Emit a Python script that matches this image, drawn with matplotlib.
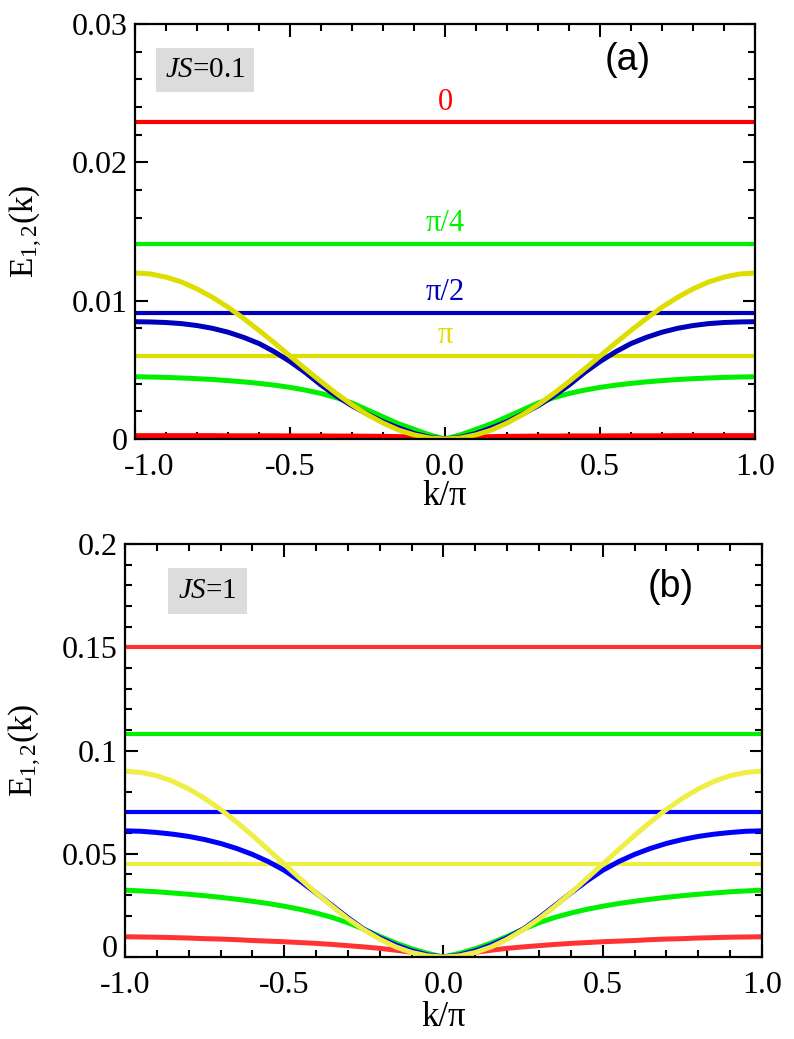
import numpy as np
import matplotlib
matplotlib.use("Agg")
import matplotlib.pyplot as plt
from matplotlib.transforms import ScaledTranslation

plt.rcParams['font.family'] = ['Liberation Serif', 'DejaVu Serif']
plt.rcParams['mathtext.fontset'] = 'custom'
plt.rcParams['mathtext.rm'] = 'Liberation Serif'
plt.rcParams['mathtext.it'] = 'Liberation Serif:italic'
plt.rcParams['mathtext.default'] = 'regular'

# k/pi grid for k >= 0 (curves are symmetric in k)
k_half = np.array([0.0, 0.05, 0.1, 0.15, 0.2, 0.25, 0.3, 0.35, 0.4, 0.45, 0.5,
                   0.55, 0.6, 0.65, 0.7, 0.75, 0.8, 0.85, 0.9, 0.95, 1.0])

phase_labels = ['0', 'π/4', 'π/2', 'π']

# panel (a), JS = 0.1
flat_a = [0.0229, 0.0141, 0.00912, 0.0060]
red_a = [0.0, 0.00008, 0.00014, 0.00017, 0.00019, 0.0002, 0.00021, 0.00021, 0.00022, 0.00022, 0.00022,
         0.00023, 0.00023, 0.00023, 0.00023, 0.00024, 0.00024, 0.00024, 0.00024, 0.00024, 0.00024]
green_a = [0.0, 0.0003, 0.0007, 0.0011, 0.0016, 0.0021, 0.0026, 0.00298, 0.00329, 0.00353, 0.00373,
           0.00389, 0.00402, 0.00413, 0.00422, 0.0043, 0.00436, 0.00441, 0.00445, 0.00448, 0.0045]
blue_a = [0.0, 0.00012, 0.0004, 0.0008, 0.00125, 0.0018, 0.0024, 0.0031, 0.0039, 0.0048, 0.0056,
          0.0063, 0.0069, 0.00735, 0.00772, 0.008, 0.0082, 0.00834, 0.00842, 0.00846, 0.00848]
yellow_a = [0.0, 0.00007, 0.0003, 0.00065, 0.00115, 0.00176, 0.00247, 0.00328, 0.00415, 0.00506, 0.006,
            0.00694, 0.00785, 0.00872, 0.00953, 0.01024, 0.01085, 0.01135, 0.0117, 0.01193, 0.012]

# panel (b), JS = 1
flat_b = [0.150, 0.1078, 0.0700, 0.0450]
red_b = [0.0, 0.0011, 0.0023, 0.0033, 0.0042, 0.0049, 0.0055, 0.0061, 0.0066, 0.0070, 0.0074,
         0.0077, 0.0080, 0.0084, 0.0087, 0.0089, 0.0092, 0.0094, 0.0096, 0.0097, 0.0098]
green_b = [0.0, 0.0018, 0.0040, 0.0068, 0.0100, 0.0135, 0.0166, 0.0192, 0.0213, 0.0231, 0.0246,
           0.0259, 0.0270, 0.0280, 0.0289, 0.0297, 0.0304, 0.0310, 0.0316, 0.0320, 0.0324]
blue_b = [0.0, 0.001, 0.003, 0.0058, 0.0093, 0.0135, 0.0190, 0.0250, 0.0310, 0.0368, 0.0420,
          0.0462, 0.0497, 0.0526, 0.0550, 0.0569, 0.0584, 0.0595, 0.0603, 0.0609, 0.0611]
yellow_b = [0.0, 0.00055, 0.0022, 0.0049, 0.0086, 0.0132, 0.0185, 0.0246, 0.0311, 0.0380, 0.045,
            0.0520, 0.0589, 0.0654, 0.0715, 0.0768, 0.0814, 0.0851, 0.0878, 0.0894, 0.090]

colors_a = ['#ff0000', '#00f000', '#0000bb', '#dddd00']
colors_b = ['#ff3333', '#00f000', '#0000ff', '#eeee44']


def mirror(v):
    v = np.asarray(v)
    return np.concatenate([v[::-1], v[1:]])


k_full = np.concatenate([-k_half[::-1], k_half[1:]])

fig = plt.figure(figsize=(7.94, 10.39), dpi=100)
ax1 = fig.add_axes([0.170, 0.5775, 0.781, 0.3994])
ax2 = fig.add_axes([0.1574, 0.0789, 0.8023, 0.3975])


def style(ax, yticks, ylabels, yminor, ylab_x, xlab_y):
    ax.set_xlim(-1, 1)
    ax.set_xticks([-1, -0.5, 0, 0.5, 1])
    ax.set_xticklabels(['-1.0', '-0.5', '0.0', '0.5', '1.0'])
    ax.set_xticks(np.arange(-1, 1.001, 0.1), minor=True)
    ax.set_ylim(yticks[0], yticks[-1])
    ax.set_yticks(yticks)
    ax.set_yticklabels(ylabels)
    ax.set_yticks(yminor, minor=True)
    ax.tick_params(which='both', direction='in', top=True, right=True, width=1.5, labelsize=23)
    ax.tick_params(which='major', length=9)
    ax.tick_params(which='minor', length=5)
    ax.tick_params(axis='x', pad=10)
    ax.tick_params(axis='y', pad=5)
    for s in ax.spines.values():
        s.set_linewidth(1.6)
    ax.set_xlabel('k/π', fontsize=25)
    ax.xaxis.set_label_coords(0.5, xlab_y)
    ax.set_ylabel('E$_{1,2}$(k)', fontsize=24)
    ax.yaxis.set_label_coords(ylab_x, 0.5)


curves_a = [red_a, green_a, blue_a, yellow_a]
for i in range(4):
    ax1.axhline(flat_a[i], color=colors_a[i], lw=3.0)
for i in range(4):
    ax1.plot(k_full, mirror(curves_a[i]), color=colors_a[i], lw=3.6,
             solid_capstyle='butt', solid_joinstyle='round')
for i in range(4):
    ax1.annotate(phase_labels[i], (0.0, flat_a[i]), xytext=(0, 9), textcoords='offset points',
                 ha='center', va='baseline', color=colors_a[i], fontsize=22)
style(ax1, [0, 0.01, 0.02, 0.03], ['0', '0.01', '0.02', '0.03'],
      np.arange(0, 0.03001, 0.002), -0.145, -0.1)

curves_b = [red_b, green_b, blue_b, yellow_b]
for i in range(4):
    ax2.axhline(flat_b[i], color=colors_b[i], lw=3.0)
for i in range(4):
    ax2.plot(k_full, mirror(curves_b[i]), color=colors_b[i], lw=3.6,
             solid_capstyle='butt', solid_joinstyle='round')
style(ax2, [0, 0.05, 0.1, 0.15, 0.2], ['0', '0.05', '0.1', '0.15', '0.2'],
      np.arange(0, 0.2001, 0.01), -0.127, -0.106)

# corner labels nudged apart as in the original
lab = ax1.get_xticklabels()[0]
lab.set_transform(lab.get_transform() + ScaledTranslation(0.14, 0, fig.dpi_scale_trans))
lab = ax2.get_yticklabels()[0]
lab.set_transform(lab.get_transform() + ScaledTranslation(0, 0.11, fig.dpi_scale_trans))

ax1.text(0.113, 0.889, '$\\it{JS}$=0.1', transform=ax1.transAxes, ha='center', va='center',
         fontsize=21, bbox=dict(facecolor='#dcdcdc', edgecolor='none', boxstyle='square,pad=0.3'))
ax2.text(0.1295, 0.886, '$\\it{JS}$=1', transform=ax2.transAxes, ha='center', va='center',
         fontsize=21, bbox=dict(facecolor='#dcdcdc', edgecolor='none', boxstyle='square,pad=0.35'))
ax1.text(0.795, 0.913, '(a)', transform=ax1.transAxes, ha='center', va='center',
         fontsize=27, family='Liberation Sans')
ax2.text(0.856, 0.896, '(b)', transform=ax2.transAxes, ha='center', va='center',
         fontsize=27, family='Liberation Sans')

fig.savefig('out.png', dpi=100)
